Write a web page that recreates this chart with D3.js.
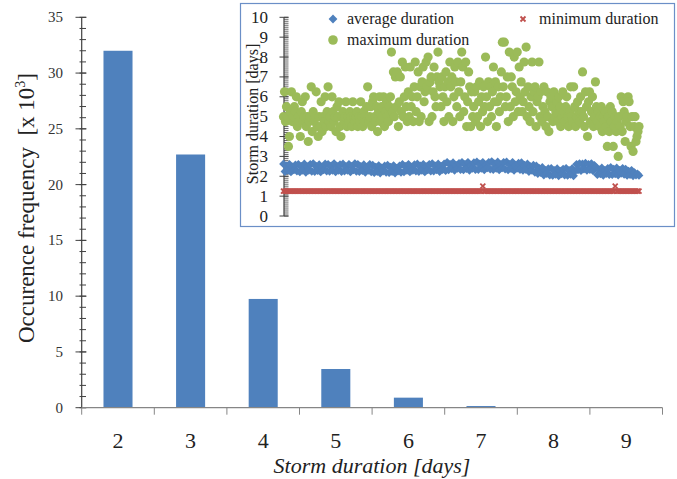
<!DOCTYPE html>
<html>
<head>
<meta charset="utf-8">
<script src="https://cdn.jsdelivr.net/npm/d3@7"></script>
</head>
<body style="margin:0;padding:0;background:#fff">
<svg id="chart" width="677" height="479" style="display:block"></svg>
<script>
// ---- main histogram: storm duration frequency (thousands) ----
const durations = ["2", "3", "4", "5", "6", "7", "8", "9"];
const frequency = [32.0, 22.7, 9.75, 3.47, 0.9, 0.15, 0.04, 0.01];
const freqTicks = [0, 5, 10, 15, 20, 25, 30, 35];

// ---- inset: storm duration statistics through the record (days) ----
const avgDuration = [
  2.62, 2.24, 2.52, 2.3, 2.6, 2.22, 2.47, 2.32, 2.57, 2.26,
  2.6, 2.22, 2.5, 2.3, 2.62, 2.2, 2.48, 2.3, 2.6, 2.25,
  2.64, 2.24, 2.5, 2.28, 2.58, 2.22, 2.46, 2.32, 2.62, 2.26,
  2.6, 2.25, 2.52, 2.3, 2.64, 2.22, 2.5, 2.3, 2.58, 2.24,
  2.62, 2.26, 2.48, 2.3, 2.6, 2.22, 2.5, 2.32, 2.64, 2.25,
  2.6, 2.24, 2.5, 2.28, 2.58, 2.2, 2.46, 2.3, 2.6, 2.22,
  2.56, 2.18, 2.46, 2.24, 2.54, 2.16, 2.42, 2.26, 2.52, 2.2,
  2.56, 2.18, 2.46, 2.24, 2.54, 2.16, 2.4, 2.26, 2.52, 2.2,
  2.6, 2.22, 2.5, 2.3, 2.6, 2.22, 2.46, 2.3, 2.58, 2.26,
  2.62, 2.24, 2.52, 2.3, 2.6, 2.22, 2.48, 2.32, 2.6, 2.26,
  2.64, 2.26, 2.52, 2.32, 2.62, 2.24, 2.5, 2.34, 2.62, 2.28,
  2.7, 2.32, 2.6, 2.38, 2.68, 2.3, 2.55, 2.4, 2.65, 2.34,
  2.7, 2.32, 2.6, 2.38, 2.7, 2.3, 2.56, 2.4, 2.68, 2.34,
  2.72, 2.34, 2.62, 2.4, 2.7, 2.32, 2.56, 2.42, 2.7, 2.36,
  2.74, 2.34, 2.62, 2.4, 2.72, 2.32, 2.58, 2.42, 2.7, 2.36,
  2.72, 2.32, 2.6, 2.38, 2.7, 2.3, 2.56, 2.4, 2.66, 2.34,
  2.68, 2.3, 2.56, 2.34, 2.62, 2.24, 2.48, 2.3, 2.56, 2.2,
  2.52, 2.14, 2.4, 2.18, 2.44, 2.06, 2.3, 2.14, 2.38, 2.06,
  2.4, 2.04, 2.3, 2.1, 2.38, 2.02, 2.26, 2.12, 2.36, 2.06,
  2.4, 2.04, 2.3, 2.1, 2.38, 2.02, 2.26, 2.6, 2.32, 2.64,
  2.28, 2.62, 2.36, 2.66, 2.3, 2.6, 2.34, 2.64, 2.28, 2.55,
  2.45, 2.08, 2.35, 2.12, 2.42, 2.05, 2.3, 2.14, 2.4, 2.08,
  2.44, 2.08, 2.36, 2.12, 2.42, 2.06, 2.3, 2.15, 2.4, 2.1,
  2.36, 2.04, 2.26, 2.08, 2.3, 2.02, 2.18, 2.06, 2.12, 2.04
];
const minDuration = [
  1.25, 1.25, 1.25, 1.25, 1.25, 1.25, 1.25, 1.25, 1.25, 1.25,
  1.25, 1.25, 1.25, 1.25, 1.25, 1.25, 1.25, 1.25, 1.25, 1.25,
  1.25, 1.25, 1.25, 1.25, 1.25, 1.25, 1.25, 1.25, 1.25, 1.25,
  1.25, 1.25, 1.25, 1.25, 1.25, 1.25, 1.25, 1.25, 1.25, 1.25,
  1.25, 1.25, 1.25, 1.25, 1.25, 1.25, 1.25, 1.25, 1.25, 1.25,
  1.25, 1.25, 1.25, 1.25, 1.25, 1.25, 1.25, 1.25, 1.25, 1.25,
  1.25, 1.25, 1.25, 1.25, 1.25, 1.25, 1.25, 1.25, 1.25, 1.25,
  1.25, 1.25, 1.25, 1.25, 1.25, 1.25, 1.25, 1.25, 1.25, 1.25,
  1.25, 1.25, 1.25, 1.25, 1.25, 1.25, 1.25, 1.25, 1.25, 1.25,
  1.25, 1.25, 1.25, 1.25, 1.25, 1.25, 1.25, 1.25, 1.25, 1.25,
  1.25, 1.25, 1.25, 1.25, 1.25, 1.25, 1.25, 1.25, 1.25, 1.25,
  1.25, 1.25, 1.25, 1.25, 1.25, 1.25, 1.25, 1.25, 1.25, 1.25,
  1.25, 1.25, 1.25, 1.25, 1.25, 1.25, 1.25, 1.25, 1.25, 1.25,
  1.25, 1.25, 1.25, 1.25, 1.5, 1.25, 1.25, 1.25, 1.25, 1.25,
  1.25, 1.25, 1.25, 1.25, 1.25, 1.25, 1.25, 1.25, 1.25, 1.25,
  1.25, 1.25, 1.25, 1.25, 1.25, 1.25, 1.25, 1.25, 1.25, 1.25,
  1.25, 1.25, 1.25, 1.25, 1.25, 1.25, 1.25, 1.25, 1.25, 1.25,
  1.25, 1.25, 1.25, 1.25, 1.25, 1.25, 1.25, 1.25, 1.25, 1.25,
  1.25, 1.25, 1.25, 1.25, 1.25, 1.25, 1.25, 1.25, 1.25, 1.25,
  1.25, 1.25, 1.25, 1.25, 1.25, 1.25, 1.25, 1.25, 1.25, 1.25,
  1.25, 1.25, 1.25, 1.25, 1.25, 1.25, 1.25, 1.25, 1.25, 1.25,
  1.25, 1.25, 1.25, 1.25, 1.25, 1.25, 1.25, 1.25, 1.25, 1.25,
  1.25, 1.25, 1.25, 1.5, 1.25, 1.25, 1.25, 1.25, 1.25, 1.25,
  1.25, 1.25, 1.25, 1.25, 1.25, 1.25, 1.25, 1.25, 1.25, 1.25
];
const maxDuration = [
  5.0, 6.25, 4.75, 5.5, 5.0, 3.5, 4.0, 5.25, 6.25, 4.75, 5.0, 5.5,
  5.25, 6.0, 4.5, 5.0, 4.75, 4.0, 5.25, 5.75, 4.75, 5.0, 6.0, 4.5,
  5.0, 3.75, 4.75, 5.0, 6.5, 4.25, 5.25, 4.75, 5.0, 6.25, 4.5, 4.0,
  5.0, 4.5, 5.75, 4.25, 5.0, 4.75, 6.0, 4.5, 5.25, 6.5, 4.75, 5.0,
  4.5, 6.0, 5.25, 4.75, 5.0, 4.25, 5.5, 5.0, 5.75, 4.5, 4.0, 5.0,
  5.25, 4.75, 5.0, 5.75, 4.5, 5.0, 4.75, 5.25, 5.0, 4.5, 5.75, 5.0,
  4.75, 5.0, 5.25, 4.5, 5.0, 4.75, 5.75, 5.0, 4.5, 5.25, 5.0, 4.75,
  5.5, 6.5, 4.75, 5.0, 5.5, 4.5, 5.75, 6.0, 5.0, 4.75, 5.5, 4.25,
  5.25, 6.0, 4.75, 5.5, 5.0, 6.0, 4.5, 5.25, 5.75, 5.0, 4.75, 5.5,
  6.0, 8.25, 5.25, 7.25, 5.0, 7.0, 5.5, 7.25, 4.5, 5.75, 7.0, 5.25,
  7.75, 5.0, 6.0, 7.5, 5.5, 4.75, 6.25, 5.0, 7.5, 5.5, 6.0, 4.75,
  6.5, 7.75, 5.25, 6.0, 7.25, 4.75, 6.5, 5.0, 6.75, 7.5, 5.75, 6.25,
  7.75, 6.5, 8.0, 4.75, 6.75, 7.0, 5.0, 6.25, 7.5, 6.0, 5.5, 7.0,
  8.25, 6.75, 6.5, 5.5, 7.0, 6.0, 4.75, 6.5, 7.25, 5.75, 6.75, 5.0,
  7.75, 6.5, 7.0, 4.75, 6.0, 7.5, 6.75, 5.5, 7.75, 6.25, 5.0, 6.75,
  8.25, 7.5, 5.25, 6.0, 7.75, 4.5, 5.75, 7.25, 6.5, 4.5, 6.25, 5.0,
  5.5, 6.25, 4.75, 6.5, 5.0, 5.75, 6.75, 4.5, 6.0, 5.25, 6.5, 5.5,
  8.0, 6.0, 4.75, 6.75, 5.5, 6.5, 5.0, 6.25, 7.5, 5.75, 6.75, 4.5,
  5.75, 6.5, 5.25, 6.0, 7.25, 8.75, 6.5, 8.75, 5.5, 6.0, 7.0, 4.75,
  8.25, 5.5, 7.0, 6.5, 5.0, 8.0, 5.75, 6.25, 8.25, 5.25, 7.5, 6.0,
  6.75, 5.25, 5.75, 7.75, 6.25, 8.5, 5.0, 6.5, 5.5, 4.75, 6.0, 7.75,
  5.25, 6.25, 6.5, 4.5, 5.75, 6.0, 7.75, 5.0, 6.25, 4.75, 5.5, 6.5,
  5.25, 4.5, 6.25, 5.0, 4.25, 5.75, 6.0, 5.5, 4.75, 6.25, 5.0, 5.25,
  5.75, 4.75, 6.0, 5.5, 4.5, 5.0, 6.25, 5.25, 4.75, 5.5, 6.0, 5.0,
  4.5, 5.25, 6.5, 5.0, 4.75, 6.5, 5.5, 4.5, 5.0, 5.75, 5.25, 4.75,
  6.0, 5.25, 7.25, 5.0, 4.5, 6.25, 5.5, 4.0, 5.75, 6.25, 4.75, 5.25,
  6.0, 4.5, 5.0, 6.75, 5.5, 4.75, 5.25, 4.5, 5.0, 5.5, 4.25, 5.0,
  4.75, 5.25, 4.5, 3.5, 5.0, 4.25, 5.5, 4.75, 5.25, 3.5, 4.5, 5.0,
  4.25, 4.75, 3.0, 5.0, 4.5, 6.0, 4.25, 5.75, 5.25, 3.75, 4.75, 5.0,
  6.0, 5.75, 4.5, 3.5, 5.0, 3.25, 4.5, 5.0, 3.75, 4.0, 4.25, 4.5
];
const insetTicks = [0, 1, 2, 3, 4, 5, 6, 7, 8, 9, 10];

const BLUE = "#4f81bd", GREEN = "#9bbb59", RED = "#c0504d";
const FONT = '"Liberation Serif", "Times New Roman", serif';
const svg = d3.select("#chart").style("font-family", FONT);

// ================= main bar chart =================
const x = d3.scaleBand().domain(durations).range([81.7, 662.5])
  .paddingInner(0.6).paddingOuter(0.3);
const y = d3.scaleLinear().domain([0, 35]).range([407.7, 17.3]);

svg.append("g").selectAll("rect").data(durations).join("rect")
  .attr("x", d => x(d))
  .attr("width", x.bandwidth())
  .attr("y", (d, i) => y(frequency[i]))
  .attr("height", (d, i) => y(0) - y(frequency[i]))
  .attr("fill", BLUE);

// y axis: minor ticks every unit, major ticks every 5
const yAxisG = svg.append("g");
yAxisG.selectAll("line.minor").data(d3.range(0, 36)).join("line")
  .attr("x1", 79.5).attr("x2", 86)
  .attr("y1", d => y(d)).attr("y2", d => y(d))
  .attr("stroke", "#404040").attr("stroke-width", 1);
yAxisG.selectAll("line.major").data(freqTicks).join("line")
  .attr("x1", 75.5).attr("x2", 86.5)
  .attr("y1", d => y(d)).attr("y2", d => y(d))
  .attr("stroke", "#404040").attr("stroke-width", 1);
yAxisG.append("line")
  .attr("x1", 81.7).attr("x2", 81.7).attr("y1", y(35)).attr("y2", y(0))
  .attr("stroke", "#404040").attr("stroke-width", 1.2);
yAxisG.selectAll("text").data(freqTicks).join("text")
  .style("font-family", FONT)
  .attr("x", 63).attr("y", d => y(d) + 5)
  .attr("text-anchor", "end").attr("font-size", 15).attr("fill", "#333")
  .text(d => d);

// x axis
const xAxisG = svg.append("g");
xAxisG.append("line")
  .attr("x1", 81.7).attr("x2", 662.5).attr("y1", y(0)).attr("y2", y(0))
  .attr("stroke", "#868686").attr("stroke-width", 1.2);
const step = x.step();
xAxisG.selectAll("line.tick").data(d3.range(0, durations.length + 1)).join("line")
  .attr("x1", d => 81.7 + d * step).attr("x2", d => 81.7 + d * step)
  .attr("y1", y(0)).attr("y2", y(0) + 7)
  .attr("stroke", "#868686").attr("stroke-width", 1);
xAxisG.selectAll("text").data(durations).join("text")
  .style("font-family", FONT)
  .attr("x", d => x(d) + x.bandwidth() / 2).attr("y", 448)
  .attr("text-anchor", "middle").attr("font-size", 22).attr("fill", "#222")
  .text(d => d);

svg.append("text")
  .style("font-family", FONT)
  .attr("x", 372).attr("y", 473)
  .attr("text-anchor", "middle").attr("font-size", 22).attr("font-style", "italic")
  .attr("fill", "#222")
  .text("Storm duration [days]");

const yTitle = svg.append("text")
  .style("font-family", FONT).style("white-space", "pre")
  .attr("transform", "translate(34,208) rotate(-90)")
  .attr("text-anchor", "middle").attr("font-size", 23).attr("fill", "#222");
yTitle.append("tspan").text("Occurence frequency  [x 10");
yTitle.append("tspan").attr("dy", -9).attr("font-size", 14).text("3");
yTitle.append("tspan").attr("dy", 9).text("]");

// ================= inset scatter =================
const inset = svg.append("g");
inset.append("rect")
  .attr("x", 240.5).attr("y", 3.5).attr("width", 434).attr("height", 223)
  .attr("fill", "#fff").attr("stroke", "#6b8fc7").attr("stroke-width", 1.2);

const xAvg = d3.scaleLinear().domain([0, avgDuration.length - 1]).range([283.5, 639]);
const xMax = d3.scaleLinear().domain([0, maxDuration.length - 1]).range([283.5, 639]);
const yi = d3.scaleLinear().domain([0, 10]).range([216, 17.3]);

// y axis with dense minor ticks
inset.selectAll("line.minor").data(d3.range(0, 101)).join("line")
  .attr("x1", 284).attr("x2", 288.5)
  .attr("y1", d => yi(d / 10)).attr("y2", d => yi(d / 10))
  .attr("stroke", "#404040").attr("stroke-width", 0.8);
inset.selectAll("line.major").data(insetTicks).join("line")
  .attr("x1", 279.5).attr("x2", 288.5)
  .attr("y1", d => yi(d)).attr("y2", d => yi(d))
  .attr("stroke", "#404040").attr("stroke-width", 1);
inset.append("line")
  .attr("x1", 284).attr("x2", 284).attr("y1", yi(10)).attr("y2", yi(0))
  .attr("stroke", "#404040").attr("stroke-width", 1.2);
inset.selectAll("text.tick").data(insetTicks).join("text")
  .style("font-family", FONT)
  .attr("x", 268).attr("y", d => yi(d) + 5.5)
  .attr("text-anchor", "end").attr("font-size", 17).attr("fill", "#222")
  .text(d => d);
inset.append("text")
  .style("font-family", FONT)
  .attr("transform", "translate(258,114) rotate(-90)")
  .attr("text-anchor", "middle").attr("font-size", 16).attr("fill", "#222")
  .text("Storm duration [days]");

const diamond = "M0,-4.4L4.4,0L0,4.4L-4.4,0Z";
const cross = "M-2.5,-2.5L2.5,2.5M-2.5,2.5L2.5,-2.5";

// average duration (diamonds)
inset.append("g").selectAll("path").data(avgDuration).join("path")
  .attr("transform", (d, i) => `translate(${xAvg(i)},${yi(d)})`)
  .attr("d", diamond).attr("fill", BLUE);

// minimum duration (crosses)
inset.append("g").selectAll("path").data(minDuration).join("path")
  .attr("transform", (d, i) => `translate(${xAvg(i)},${yi(d)})`)
  .attr("d", cross).attr("stroke", RED).attr("stroke-width", 1.8).attr("fill", "none");

// maximum duration (circles)
inset.append("g").selectAll("circle").data(maxDuration).join("circle")
  .attr("cx", (d, i) => xMax(i)).attr("cy", d => yi(d))
  .attr("r", 4.6).attr("fill", GREEN);

// legend
const legend = inset.append("g").attr("fill", "#222");
legend.append("path").attr("transform", "translate(333,19)").attr("d", diamond).attr("fill", BLUE);
legend.append("path").attr("transform", "translate(523,19)").attr("d", cross)
  .attr("stroke", RED).attr("stroke-width", 1.8);
legend.append("circle").attr("cx", 333).attr("cy", 40).attr("r", 4.8).attr("fill", GREEN);
legend.selectAll("text")
  .data([["average duration", 347, 23.5], ["minimum duration", 539, 23.5], ["maximum duration", 347, 45]])
  .join("text")
  .style("font-family", FONT)
  .attr("font-size", 16)
  .attr("x", d => d[1]).attr("y", d => d[2])
  .text(d => d[0]);
</script>
</body>
</html>
